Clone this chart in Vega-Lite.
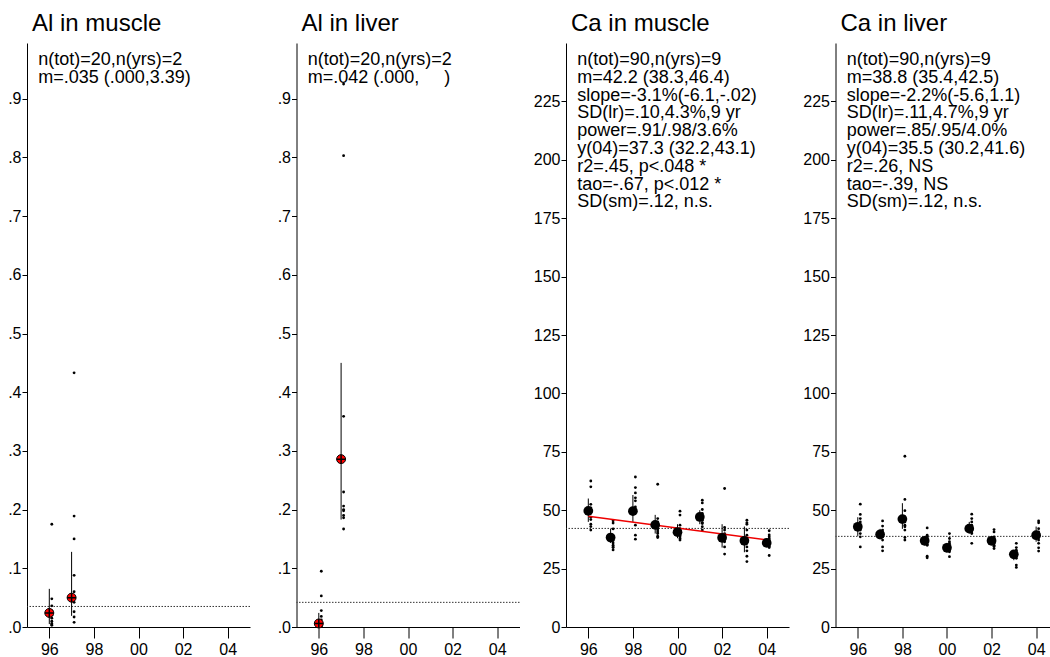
{
  "$schema": "https://vega.github.io/schema/vega-lite/v6.json",
  "padding": {"left": 0, "top": 12, "right": 0, "bottom": 0},
  "background": "white",
  "config": {
    "view": {"stroke": null},
    "font": "Liberation Sans",
    "title": {"anchor": "start", "frame": "group", "fontSize": 24, "fontWeight": "normal", "font": "Liberation Sans", "dx": 5, "offset": 7, "baseline": "alphabetic", "color": "black"},
    "axis": {"grid": false, "title": null, "labelFont": "Liberation Sans", "labelFontSize": 16, "labelColor": "black", "tickColor": "black", "domainColor": "black", "labelFlush": false, "labelOverlap": false},
    "axisX": {"tickSize": 11, "labelPadding": 3},
    "axisY": {"tickSize": 5, "labelPadding": 1, "minExtent": 27, "maxExtent": 27}
  },
  "datasets": {
    "points": [
      {"p": "Al in muscle", "year": 1996, "v": 0.175}, {"p": "Al in muscle", "year": 1996, "v": 0.048}, {"p": "Al in muscle", "year": 1996, "v": 0.036}, {"p": "Al in muscle", "year": 1996, "v": 0.028}, {"p": "Al in muscle", "year": 1996, "v": 0.020}, {"p": "Al in muscle", "year": 1996, "v": 0.015}, {"p": "Al in muscle", "year": 1996, "v": 0.010}, {"p": "Al in muscle", "year": 1996, "v": 0.006}, {"p": "Al in muscle", "year": 1996, "v": 0.004}, {"p": "Al in muscle", "year": 1996, "v": 0.003},
      {"p": "Al in muscle", "year": 1997, "v": 0.433}, {"p": "Al in muscle", "year": 1997, "v": 0.189}, {"p": "Al in muscle", "year": 1997, "v": 0.150}, {"p": "Al in muscle", "year": 1997, "v": 0.088}, {"p": "Al in muscle", "year": 1997, "v": 0.060}, {"p": "Al in muscle", "year": 1997, "v": 0.050}, {"p": "Al in muscle", "year": 1997, "v": 0.042}, {"p": "Al in muscle", "year": 1997, "v": 0.026}, {"p": "Al in muscle", "year": 1997, "v": 0.017}, {"p": "Al in muscle", "year": 1997, "v": 0.008},
      {"p": "Al in liver", "year": 1996, "v": 0.095}, {"p": "Al in liver", "year": 1996, "v": 0.053}, {"p": "Al in liver", "year": 1996, "v": 0.028}, {"p": "Al in liver", "year": 1996, "v": 0.018}, {"p": "Al in liver", "year": 1996, "v": 0.012}, {"p": "Al in liver", "year": 1996, "v": 0.008}, {"p": "Al in liver", "year": 1996, "v": 0.005}, {"p": "Al in liver", "year": 1996, "v": 0.003}, {"p": "Al in liver", "year": 1996, "v": 0.002}, {"p": "Al in liver", "year": 1996, "v": 0.001},
      {"p": "Al in liver", "year": 1997, "v": 0.925}, {"p": "Al in liver", "year": 1997, "v": 0.803}, {"p": "Al in liver", "year": 1997, "v": 0.359}, {"p": "Al in liver", "year": 1997, "v": 0.230}, {"p": "Al in liver", "year": 1997, "v": 0.206}, {"p": "Al in liver", "year": 1997, "v": 0.200}, {"p": "Al in liver", "year": 1997, "v": 0.198}, {"p": "Al in liver", "year": 1997, "v": 0.190}, {"p": "Al in liver", "year": 1997, "v": 0.186}, {"p": "Al in liver", "year": 1997, "v": 0.167},
      {"p": "Ca in muscle", "year": 1996, "v": 62.5}, {"p": "Ca in muscle", "year": 1996, "v": 60.0}, {"p": "Ca in muscle", "year": 1996, "v": 52.5}, {"p": "Ca in muscle", "year": 1996, "v": 51.0}, {"p": "Ca in muscle", "year": 1996, "v": 49.0}, {"p": "Ca in muscle", "year": 1996, "v": 47.0}, {"p": "Ca in muscle", "year": 1996, "v": 46.0}, {"p": "Ca in muscle", "year": 1996, "v": 44.0}, {"p": "Ca in muscle", "year": 1996, "v": 43.0}, {"p": "Ca in muscle", "year": 1996, "v": 41.5},
      {"p": "Ca in muscle", "year": 1997, "v": 45.5}, {"p": "Ca in muscle", "year": 1997, "v": 44.5}, {"p": "Ca in muscle", "year": 1997, "v": 42.0}, {"p": "Ca in muscle", "year": 1997, "v": 38.5}, {"p": "Ca in muscle", "year": 1997, "v": 37.0}, {"p": "Ca in muscle", "year": 1997, "v": 36.0}, {"p": "Ca in muscle", "year": 1997, "v": 35.0}, {"p": "Ca in muscle", "year": 1997, "v": 34.3}, {"p": "Ca in muscle", "year": 1997, "v": 34.0}, {"p": "Ca in muscle", "year": 1997, "v": 33.0},
      {"p": "Ca in muscle", "year": 1998, "v": 64.2}, {"p": "Ca in muscle", "year": 1998, "v": 59.7}, {"p": "Ca in muscle", "year": 1998, "v": 57.4}, {"p": "Ca in muscle", "year": 1998, "v": 55.3}, {"p": "Ca in muscle", "year": 1998, "v": 54.0}, {"p": "Ca in muscle", "year": 1998, "v": 51.4}, {"p": "Ca in muscle", "year": 1998, "v": 49.3}, {"p": "Ca in muscle", "year": 1998, "v": 43.6}, {"p": "Ca in muscle", "year": 1998, "v": 39.3}, {"p": "Ca in muscle", "year": 1998, "v": 37.6},
      {"p": "Ca in muscle", "year": 1999, "v": 61.1}, {"p": "Ca in muscle", "year": 1999, "v": 46.4}, {"p": "Ca in muscle", "year": 1999, "v": 45.0}, {"p": "Ca in muscle", "year": 1999, "v": 43.2}, {"p": "Ca in muscle", "year": 1999, "v": 42.1}, {"p": "Ca in muscle", "year": 1999, "v": 41.5}, {"p": "Ca in muscle", "year": 1999, "v": 40.7}, {"p": "Ca in muscle", "year": 1999, "v": 40.0}, {"p": "Ca in muscle", "year": 1999, "v": 38.9}, {"p": "Ca in muscle", "year": 1999, "v": 38.3},
      {"p": "Ca in muscle", "year": 2000, "v": 49.6}, {"p": "Ca in muscle", "year": 2000, "v": 47.9}, {"p": "Ca in muscle", "year": 2000, "v": 43.6}, {"p": "Ca in muscle", "year": 2000, "v": 42.1}, {"p": "Ca in muscle", "year": 2000, "v": 41.5}, {"p": "Ca in muscle", "year": 2000, "v": 40.7}, {"p": "Ca in muscle", "year": 2000, "v": 39.3}, {"p": "Ca in muscle", "year": 2000, "v": 38.6}, {"p": "Ca in muscle", "year": 2000, "v": 37.9}, {"p": "Ca in muscle", "year": 2000, "v": 37.2},
      {"p": "Ca in muscle", "year": 2001, "v": 54.3}, {"p": "Ca in muscle", "year": 2001, "v": 53.1}, {"p": "Ca in muscle", "year": 2001, "v": 50.3}, {"p": "Ca in muscle", "year": 2001, "v": 48.6}, {"p": "Ca in muscle", "year": 2001, "v": 46.4}, {"p": "Ca in muscle", "year": 2001, "v": 45.7}, {"p": "Ca in muscle", "year": 2001, "v": 44.7}, {"p": "Ca in muscle", "year": 2001, "v": 44.3}, {"p": "Ca in muscle", "year": 2001, "v": 42.9}, {"p": "Ca in muscle", "year": 2001, "v": 41.5},
      {"p": "Ca in muscle", "year": 2002, "v": 59.3}, {"p": "Ca in muscle", "year": 2002, "v": 42.6}, {"p": "Ca in muscle", "year": 2002, "v": 41.5}, {"p": "Ca in muscle", "year": 2002, "v": 40.0}, {"p": "Ca in muscle", "year": 2002, "v": 39.3}, {"p": "Ca in muscle", "year": 2002, "v": 38.6}, {"p": "Ca in muscle", "year": 2002, "v": 37.9}, {"p": "Ca in muscle", "year": 2002, "v": 36.5}, {"p": "Ca in muscle", "year": 2002, "v": 34.3}, {"p": "Ca in muscle", "year": 2002, "v": 31.2},
      {"p": "Ca in muscle", "year": 2003, "v": 45.7}, {"p": "Ca in muscle", "year": 2003, "v": 44.6}, {"p": "Ca in muscle", "year": 2003, "v": 44.0}, {"p": "Ca in muscle", "year": 2003, "v": 41.5}, {"p": "Ca in muscle", "year": 2003, "v": 39.3}, {"p": "Ca in muscle", "year": 2003, "v": 37.2}, {"p": "Ca in muscle", "year": 2003, "v": 34.3}, {"p": "Ca in muscle", "year": 2003, "v": 32.6}, {"p": "Ca in muscle", "year": 2003, "v": 30.3}, {"p": "Ca in muscle", "year": 2003, "v": 28.0},
      {"p": "Ca in muscle", "year": 2004, "v": 41.2}, {"p": "Ca in muscle", "year": 2004, "v": 39.4}, {"p": "Ca in muscle", "year": 2004, "v": 38.6}, {"p": "Ca in muscle", "year": 2004, "v": 37.9}, {"p": "Ca in muscle", "year": 2004, "v": 37.2}, {"p": "Ca in muscle", "year": 2004, "v": 36.5}, {"p": "Ca in muscle", "year": 2004, "v": 35.4}, {"p": "Ca in muscle", "year": 2004, "v": 34.6}, {"p": "Ca in muscle", "year": 2004, "v": 34.0}, {"p": "Ca in muscle", "year": 2004, "v": 30.6},
      {"p": "Ca in liver", "year": 1996, "v": 52.6}, {"p": "Ca in liver", "year": 1996, "v": 48.2}, {"p": "Ca in liver", "year": 1996, "v": 46.4}, {"p": "Ca in liver", "year": 1996, "v": 45.0}, {"p": "Ca in liver", "year": 1996, "v": 43.6}, {"p": "Ca in liver", "year": 1996, "v": 42.1}, {"p": "Ca in liver", "year": 1996, "v": 41.5}, {"p": "Ca in liver", "year": 1996, "v": 40.0}, {"p": "Ca in liver", "year": 1996, "v": 38.6}, {"p": "Ca in liver", "year": 1996, "v": 34.3},
      {"p": "Ca in liver", "year": 1997, "v": 45.4}, {"p": "Ca in liver", "year": 1997, "v": 43.2}, {"p": "Ca in liver", "year": 1997, "v": 41.5}, {"p": "Ca in liver", "year": 1997, "v": 40.7}, {"p": "Ca in liver", "year": 1997, "v": 40.0}, {"p": "Ca in liver", "year": 1997, "v": 39.3}, {"p": "Ca in liver", "year": 1997, "v": 38.6}, {"p": "Ca in liver", "year": 1997, "v": 37.2}, {"p": "Ca in liver", "year": 1997, "v": 34.3}, {"p": "Ca in liver", "year": 1997, "v": 32.6},
      {"p": "Ca in liver", "year": 1998, "v": 73.1}, {"p": "Ca in liver", "year": 1998, "v": 54.6}, {"p": "Ca in liver", "year": 1998, "v": 49.8}, {"p": "Ca in liver", "year": 1998, "v": 47.2}, {"p": "Ca in liver", "year": 1998, "v": 45.0}, {"p": "Ca in liver", "year": 1998, "v": 43.6}, {"p": "Ca in liver", "year": 1998, "v": 42.9}, {"p": "Ca in liver", "year": 1998, "v": 41.5}, {"p": "Ca in liver", "year": 1998, "v": 38.3}, {"p": "Ca in liver", "year": 1998, "v": 37.2},
      {"p": "Ca in liver", "year": 1999, "v": 42.4}, {"p": "Ca in liver", "year": 1999, "v": 39.3}, {"p": "Ca in liver", "year": 1999, "v": 38.6}, {"p": "Ca in liver", "year": 1999, "v": 37.9}, {"p": "Ca in liver", "year": 1999, "v": 37.2}, {"p": "Ca in liver", "year": 1999, "v": 36.5}, {"p": "Ca in liver", "year": 1999, "v": 35.4}, {"p": "Ca in liver", "year": 1999, "v": 35.0}, {"p": "Ca in liver", "year": 1999, "v": 30.3}, {"p": "Ca in liver", "year": 1999, "v": 29.6},
      {"p": "Ca in liver", "year": 2000, "v": 40.0}, {"p": "Ca in liver", "year": 2000, "v": 37.9}, {"p": "Ca in liver", "year": 2000, "v": 36.5}, {"p": "Ca in liver", "year": 2000, "v": 35.8}, {"p": "Ca in liver", "year": 2000, "v": 35.0}, {"p": "Ca in liver", "year": 2000, "v": 34.3}, {"p": "Ca in liver", "year": 2000, "v": 33.6}, {"p": "Ca in liver", "year": 2000, "v": 32.9}, {"p": "Ca in liver", "year": 2000, "v": 32.2}, {"p": "Ca in liver", "year": 2000, "v": 30.1},
      {"p": "Ca in liver", "year": 2001, "v": 48.3}, {"p": "Ca in liver", "year": 2001, "v": 46.4}, {"p": "Ca in liver", "year": 2001, "v": 45.0}, {"p": "Ca in liver", "year": 2001, "v": 43.6}, {"p": "Ca in liver", "year": 2001, "v": 42.9}, {"p": "Ca in liver", "year": 2001, "v": 42.1}, {"p": "Ca in liver", "year": 2001, "v": 41.5}, {"p": "Ca in liver", "year": 2001, "v": 40.7}, {"p": "Ca in liver", "year": 2001, "v": 40.0}, {"p": "Ca in liver", "year": 2001, "v": 35.8},
      {"p": "Ca in liver", "year": 2002, "v": 41.7}, {"p": "Ca in liver", "year": 2002, "v": 40.7}, {"p": "Ca in liver", "year": 2002, "v": 38.6}, {"p": "Ca in liver", "year": 2002, "v": 37.9}, {"p": "Ca in liver", "year": 2002, "v": 37.2}, {"p": "Ca in liver", "year": 2002, "v": 36.5}, {"p": "Ca in liver", "year": 2002, "v": 35.8}, {"p": "Ca in liver", "year": 2002, "v": 35.0}, {"p": "Ca in liver", "year": 2002, "v": 34.6}, {"p": "Ca in liver", "year": 2002, "v": 33.6},
      {"p": "Ca in liver", "year": 2003, "v": 35.8}, {"p": "Ca in liver", "year": 2003, "v": 34.0}, {"p": "Ca in liver", "year": 2003, "v": 32.9}, {"p": "Ca in liver", "year": 2003, "v": 32.2}, {"p": "Ca in liver", "year": 2003, "v": 31.5}, {"p": "Ca in liver", "year": 2003, "v": 30.8}, {"p": "Ca in liver", "year": 2003, "v": 30.1}, {"p": "Ca in liver", "year": 2003, "v": 29.4}, {"p": "Ca in liver", "year": 2003, "v": 26.5}, {"p": "Ca in liver", "year": 2003, "v": 25.5},
      {"p": "Ca in liver", "year": 2004, "v": 45.4}, {"p": "Ca in liver", "year": 2004, "v": 44.6}, {"p": "Ca in liver", "year": 2004, "v": 42.1}, {"p": "Ca in liver", "year": 2004, "v": 40.7}, {"p": "Ca in liver", "year": 2004, "v": 40.0}, {"p": "Ca in liver", "year": 2004, "v": 38.3}, {"p": "Ca in liver", "year": 2004, "v": 37.2}, {"p": "Ca in liver", "year": 2004, "v": 35.8}, {"p": "Ca in liver", "year": 2004, "v": 33.9}, {"p": "Ca in liver", "year": 2004, "v": 32.5}
    ],
    "means": [
      {"p": "Al in muscle", "year": 1996, "mean": 0.024, "lo": 0.005, "hi": 0.065},
      {"p": "Al in muscle", "year": 1997, "mean": 0.050, "lo": 0.019, "hi": 0.128},
      {"p": "Al in liver", "year": 1996, "mean": 0.006, "lo": 0.0, "hi": 0.024},
      {"p": "Al in liver", "year": 1997, "mean": 0.286, "lo": 0.183, "hi": 0.450},
      {"p": "Ca in muscle", "year": 1996, "mean": 49.7, "lo": 45.0, "hi": 55.0},
      {"p": "Ca in muscle", "year": 1997, "mean": 38.3, "lo": 36.0, "hi": 42.0},
      {"p": "Ca in muscle", "year": 1998, "mean": 49.6, "lo": 45.0, "hi": 56.5},
      {"p": "Ca in muscle", "year": 1999, "mean": 43.7, "lo": 40.0, "hi": 48.0},
      {"p": "Ca in muscle", "year": 2000, "mean": 40.6, "lo": 38.0, "hi": 44.0},
      {"p": "Ca in muscle", "year": 2001, "mean": 47.1, "lo": 44.0, "hi": 50.0},
      {"p": "Ca in muscle", "year": 2002, "mean": 38.2, "lo": 34.0, "hi": 44.0},
      {"p": "Ca in muscle", "year": 2003, "mean": 36.9, "lo": 32.0, "hi": 43.0},
      {"p": "Ca in muscle", "year": 2004, "mean": 36.0, "lo": 35.0, "hi": 38.0},
      {"p": "Ca in liver", "year": 1996, "mean": 42.9, "lo": 39.0, "hi": 47.0},
      {"p": "Ca in liver", "year": 1997, "mean": 39.6, "lo": 37.5, "hi": 42.0},
      {"p": "Ca in liver", "year": 1998, "mean": 46.2, "lo": 42.0, "hi": 53.0},
      {"p": "Ca in liver", "year": 1999, "mean": 36.9, "lo": 35.0, "hi": 39.0},
      {"p": "Ca in liver", "year": 2000, "mean": 33.9, "lo": 32.0, "hi": 36.0},
      {"p": "Ca in liver", "year": 2001, "mean": 42.1, "lo": 40.0, "hi": 45.0},
      {"p": "Ca in liver", "year": 2002, "mean": 36.9, "lo": 35.5, "hi": 39.0},
      {"p": "Ca in liver", "year": 2003, "mean": 31.1, "lo": 28.6, "hi": 33.0},
      {"p": "Ca in liver", "year": 2004, "mean": 39.3, "lo": 36.5, "hi": 43.0}
    ],
    "overall": [
      {"p": "Al in muscle", "m": 0.035},
      {"p": "Al in liver", "m": 0.042},
      {"p": "Ca in muscle", "m": 42.2},
      {"p": "Ca in liver", "m": 38.8}
    ],
    "fit": [
      {"p": "Ca in muscle", "year": 1996, "v": 47.4},
      {"p": "Ca in muscle", "year": 2004, "v": 37.3}
    ],
    "notes": [
      {"p": "Al in muscle", "line": 0, "t": "n(tot)=20,n(yrs)=2"},
      {"p": "Al in muscle", "line": 1, "t": "m=.035 (.000,3.39)"},
      {"p": "Al in liver", "line": 0, "t": "n(tot)=20,n(yrs)=2"},
      {"p": "Al in liver", "line": 1, "t": "m=.042 (.000,\u00a0\u00a0\u00a0\u00a0\u00a0)"},
      {"p": "Ca in muscle", "line": 0, "t": "n(tot)=90,n(yrs)=9"},
      {"p": "Ca in muscle", "line": 1, "t": "m=42.2 (38.3,46.4)"},
      {"p": "Ca in muscle", "line": 2, "t": "slope=-3.1%(-6.1,-.02)"},
      {"p": "Ca in muscle", "line": 3, "t": "SD(lr)=.10,4.3%,9 yr"},
      {"p": "Ca in muscle", "line": 4, "t": "power=.91/.98/3.6%"},
      {"p": "Ca in muscle", "line": 5, "t": "y(04)=37.3 (32.2,43.1)"},
      {"p": "Ca in muscle", "line": 6, "t": "r2=.45, p<.048 *"},
      {"p": "Ca in muscle", "line": 7, "t": "tao=-.67, p<.012 *"},
      {"p": "Ca in muscle", "line": 8, "t": "SD(sm)=.12, n.s."},
      {"p": "Ca in liver", "line": 0, "t": "n(tot)=90,n(yrs)=9"},
      {"p": "Ca in liver", "line": 1, "t": "m=38.8 (35.4,42.5)"},
      {"p": "Ca in liver", "line": 2, "t": "slope=-2.2%(-5.6,1.1)"},
      {"p": "Ca in liver", "line": 3, "t": "SD(lr)=.11,4.7%,9 yr"},
      {"p": "Ca in liver", "line": 4, "t": "power=.85/.95/4.0%"},
      {"p": "Ca in liver", "line": 5, "t": "y(04)=35.5 (30.2,41.6)"},
      {"p": "Ca in liver", "line": 6, "t": "r2=.26, NS"},
      {"p": "Ca in liver", "line": 7, "t": "tao=-.39, NS"},
      {"p": "Ca in liver", "line": 8, "t": "SD(sm)=.12, n.s."}
    ]
  },
  "hconcat": [
    {
      "width": 223, "height": 584,
      "title": "Al in muscle",
      "layer": [
        {"layer": [
          {"data": {"name": "overall"}, "transform": [{"filter": "datum.p == 'Al in muscle'"}], "mark": {"type": "rule", "strokeDash": [1.5, 1.5], "color": "#333333", "strokeWidth": 1},
           "encoding": {"y": {"field": "m", "type": "quantitative", "scale": {"domain": [0, 0.995], "nice": false}, "axis": {"values": [0, 0.1, 0.2, 0.3, 0.4, 0.5, 0.6, 0.7, 0.8, 0.9], "labelExpr": "slice(format(datum.value, '.1f'), 1)"}}}},
          {"data": {"name": "means"}, "transform": [{"filter": "datum.p == 'Al in muscle'"}], "mark": {"type": "rule", "color": "black", "strokeWidth": 1},
           "encoding": {"x": {"field": "year", "type": "quantitative", "scale": {"domain": [1995, 2005], "nice": false, "zero": false}, "axis": {"values": [1996, 1997, 1998, 1999, 2000, 2001, 2002, 2003, 2004], "labelExpr": "datum.value % 2 == 0 ? slice('' + datum.value, 2) : ''"}}, "y": {"field": "lo", "type": "quantitative"}, "y2": {"field": "hi"}}},
          {"data": {"name": "points"}, "transform": [{"filter": "datum.p == 'Al in muscle'"}], "mark": {"type": "circle", "size": 8, "color": "black", "opacity": 1, "xOffset": 2.5},
           "encoding": {"x": {"field": "year", "type": "quantitative"}, "y": {"field": "v", "type": "quantitative"}}},
          {"data": {"name": "means"}, "transform": [{"filter": "datum.p == 'Al in muscle'"}], "mark": {"type": "point", "shape": "circle", "filled": true, "fill": "#ff0000", "stroke": "black", "strokeWidth": 1, "size": 80, "opacity": 1},
           "encoding": {"x": {"field": "year", "type": "quantitative"}, "y": {"field": "mean", "type": "quantitative"}}},
          {"data": {"name": "means"}, "transform": [{"filter": "datum.p == 'Al in muscle'"}], "mark": {"type": "point", "shape": "M-1,0H1M0,-1V1", "filled": false, "stroke": "black", "strokeWidth": 1.5, "size": 80, "opacity": 1},
           "encoding": {"x": {"field": "year", "type": "quantitative"}, "y": {"field": "mean", "type": "quantitative"}}}
        ]},
        {"data": {"name": "notes"}, "transform": [{"filter": "datum.p == 'Al in muscle'"}], "mark": {"type": "text", "align": "left", "baseline": "middle", "fontSize": 18, "font": "Liberation Sans", "color": "black"},
         "encoding": {"x": {"datum": 1995.5, "type": "quantitative"}, "y": {"field": "line", "type": "quantitative", "scale": {"domain": [-0.95, 31.86], "reverse": true, "nice": false, "zero": false}, "axis": null}, "text": {"field": "t"}}}
      ],
      "resolve": {"scale": {"y": "independent"}}
    },
    {
      "width": 223, "height": 584,
      "title": "Al in liver",
      "layer": [
        {"layer": [
          {"data": {"name": "overall"}, "transform": [{"filter": "datum.p == 'Al in liver'"}], "mark": {"type": "rule", "strokeDash": [1.5, 1.5], "color": "#333333", "strokeWidth": 1},
           "encoding": {"y": {"field": "m", "type": "quantitative", "scale": {"domain": [0, 0.995], "nice": false}, "axis": {"values": [0, 0.1, 0.2, 0.3, 0.4, 0.5, 0.6, 0.7, 0.8, 0.9], "labelExpr": "slice(format(datum.value, '.1f'), 1)"}}}},
          {"data": {"name": "means"}, "transform": [{"filter": "datum.p == 'Al in liver'"}], "mark": {"type": "rule", "color": "black", "strokeWidth": 1},
           "encoding": {"x": {"field": "year", "type": "quantitative", "scale": {"domain": [1995, 2005], "nice": false, "zero": false}, "axis": {"values": [1996, 1997, 1998, 1999, 2000, 2001, 2002, 2003, 2004], "labelExpr": "datum.value % 2 == 0 ? slice('' + datum.value, 2) : ''"}}, "y": {"field": "lo", "type": "quantitative"}, "y2": {"field": "hi"}}},
          {"data": {"name": "points"}, "transform": [{"filter": "datum.p == 'Al in liver'"}], "mark": {"type": "circle", "size": 8, "color": "black", "opacity": 1, "xOffset": 2.5},
           "encoding": {"x": {"field": "year", "type": "quantitative"}, "y": {"field": "v", "type": "quantitative"}}},
          {"data": {"name": "means"}, "transform": [{"filter": "datum.p == 'Al in liver'"}], "mark": {"type": "point", "shape": "circle", "filled": true, "fill": "#ff0000", "stroke": "black", "strokeWidth": 1, "size": 80, "opacity": 1},
           "encoding": {"x": {"field": "year", "type": "quantitative"}, "y": {"field": "mean", "type": "quantitative"}}},
          {"data": {"name": "means"}, "transform": [{"filter": "datum.p == 'Al in liver'"}], "mark": {"type": "point", "shape": "M-1,0H1M0,-1V1", "filled": false, "stroke": "black", "strokeWidth": 1.5, "size": 80, "opacity": 1},
           "encoding": {"x": {"field": "year", "type": "quantitative"}, "y": {"field": "mean", "type": "quantitative"}}}
        ]},
        {"data": {"name": "notes"}, "transform": [{"filter": "datum.p == 'Al in liver'"}], "mark": {"type": "text", "align": "left", "baseline": "middle", "fontSize": 18, "font": "Liberation Sans", "color": "black"},
         "encoding": {"x": {"datum": 1995.5, "type": "quantitative"}, "y": {"field": "line", "type": "quantitative", "scale": {"domain": [-0.95, 31.86], "reverse": true, "nice": false, "zero": false}, "axis": null}, "text": {"field": "t"}}}
      ],
      "resolve": {"scale": {"y": "independent"}}
    },
    {
      "width": 223, "height": 584,
      "title": "Ca in muscle",
      "layer": [
        {"layer": [
          {"data": {"name": "overall"}, "transform": [{"filter": "datum.p == 'Ca in muscle'"}], "mark": {"type": "rule", "strokeDash": [1.5, 1.5], "color": "#333333", "strokeWidth": 1},
           "encoding": {"y": {"field": "m", "type": "quantitative", "scale": {"domain": [0, 250], "nice": false}, "axis": {"values": [0, 25, 50, 75, 100, 125, 150, 175, 200, 225], "format": "d"}}}},
          {"data": {"name": "means"}, "transform": [{"filter": "datum.p == 'Ca in muscle'"}], "mark": {"type": "rule", "color": "black", "strokeWidth": 1},
           "encoding": {"x": {"field": "year", "type": "quantitative", "scale": {"domain": [1995, 2005], "nice": false, "zero": false}, "axis": {"values": [1996, 1997, 1998, 1999, 2000, 2001, 2002, 2003, 2004], "labelExpr": "datum.value % 2 == 0 ? slice('' + datum.value, 2) : ''"}}, "y": {"field": "lo", "type": "quantitative"}, "y2": {"field": "hi"}}},
          {"data": {"name": "points"}, "transform": [{"filter": "datum.p == 'Ca in muscle'"}], "mark": {"type": "circle", "size": 8, "color": "black", "opacity": 1, "xOffset": 2.5},
           "encoding": {"x": {"field": "year", "type": "quantitative"}, "y": {"field": "v", "type": "quantitative"}}},
          {"data": {"name": "fit"}, "transform": [{"filter": "datum.p == 'Ca in muscle'"}], "mark": {"type": "line", "color": "#ee0000", "strokeWidth": 1.5},
           "encoding": {"x": {"field": "year", "type": "quantitative"}, "y": {"field": "v", "type": "quantitative"}}},
          {"data": {"name": "means"}, "transform": [{"filter": "datum.p == 'Ca in muscle'"}], "mark": {"type": "circle", "color": "black", "size": 95, "opacity": 1},
           "encoding": {"x": {"field": "year", "type": "quantitative"}, "y": {"field": "mean", "type": "quantitative"}}}
        ]},
        {"data": {"name": "notes"}, "transform": [{"filter": "datum.p == 'Ca in muscle'"}], "mark": {"type": "text", "align": "left", "baseline": "middle", "fontSize": 18, "font": "Liberation Sans", "color": "black"},
         "encoding": {"x": {"datum": 1995.5, "type": "quantitative"}, "y": {"field": "line", "type": "quantitative", "scale": {"domain": [-0.95, 31.86], "reverse": true, "nice": false, "zero": false}, "axis": null}, "text": {"field": "t"}}}
      ],
      "resolve": {"scale": {"y": "independent"}}
    },
    {
      "width": 214, "height": 584,
      "title": "Ca in liver",
      "layer": [
        {"layer": [
          {"data": {"name": "overall"}, "transform": [{"filter": "datum.p == 'Ca in liver'"}], "mark": {"type": "rule", "strokeDash": [1.5, 1.5], "color": "#333333", "strokeWidth": 1},
           "encoding": {"y": {"field": "m", "type": "quantitative", "scale": {"domain": [0, 250], "nice": false}, "axis": {"values": [0, 25, 50, 75, 100, 125, 150, 175, 200, 225], "format": "d"}}}},
          {"data": {"name": "means"}, "transform": [{"filter": "datum.p == 'Ca in liver'"}], "mark": {"type": "rule", "color": "black", "strokeWidth": 1},
           "encoding": {"x": {"field": "year", "type": "quantitative", "scale": {"domain": [1995, 2004.6], "nice": false, "zero": false}, "axis": {"values": [1996, 1997, 1998, 1999, 2000, 2001, 2002, 2003, 2004], "labelExpr": "datum.value % 2 == 0 ? slice('' + datum.value, 2) : ''"}}, "y": {"field": "lo", "type": "quantitative"}, "y2": {"field": "hi"}}},
          {"data": {"name": "points"}, "transform": [{"filter": "datum.p == 'Ca in liver'"}], "mark": {"type": "circle", "size": 8, "color": "black", "opacity": 1, "xOffset": 2.5},
           "encoding": {"x": {"field": "year", "type": "quantitative"}, "y": {"field": "v", "type": "quantitative"}}},
          {"data": {"name": "means"}, "transform": [{"filter": "datum.p == 'Ca in liver'"}], "mark": {"type": "circle", "color": "black", "size": 95, "opacity": 1},
           "encoding": {"x": {"field": "year", "type": "quantitative"}, "y": {"field": "mean", "type": "quantitative"}}}
        ]},
        {"data": {"name": "notes"}, "transform": [{"filter": "datum.p == 'Ca in liver'"}], "mark": {"type": "text", "align": "left", "baseline": "middle", "fontSize": 18, "font": "Liberation Sans", "color": "black"},
         "encoding": {"x": {"datum": 1995.5, "type": "quantitative"}, "y": {"field": "line", "type": "quantitative", "scale": {"domain": [-0.95, 31.86], "reverse": true, "nice": false, "zero": false}, "axis": null}, "text": {"field": "t"}}}
      ],
      "resolve": {"scale": {"y": "independent"}}
    }
  ],
  "spacing": 46.5,
  "bounds": "flush"
}
